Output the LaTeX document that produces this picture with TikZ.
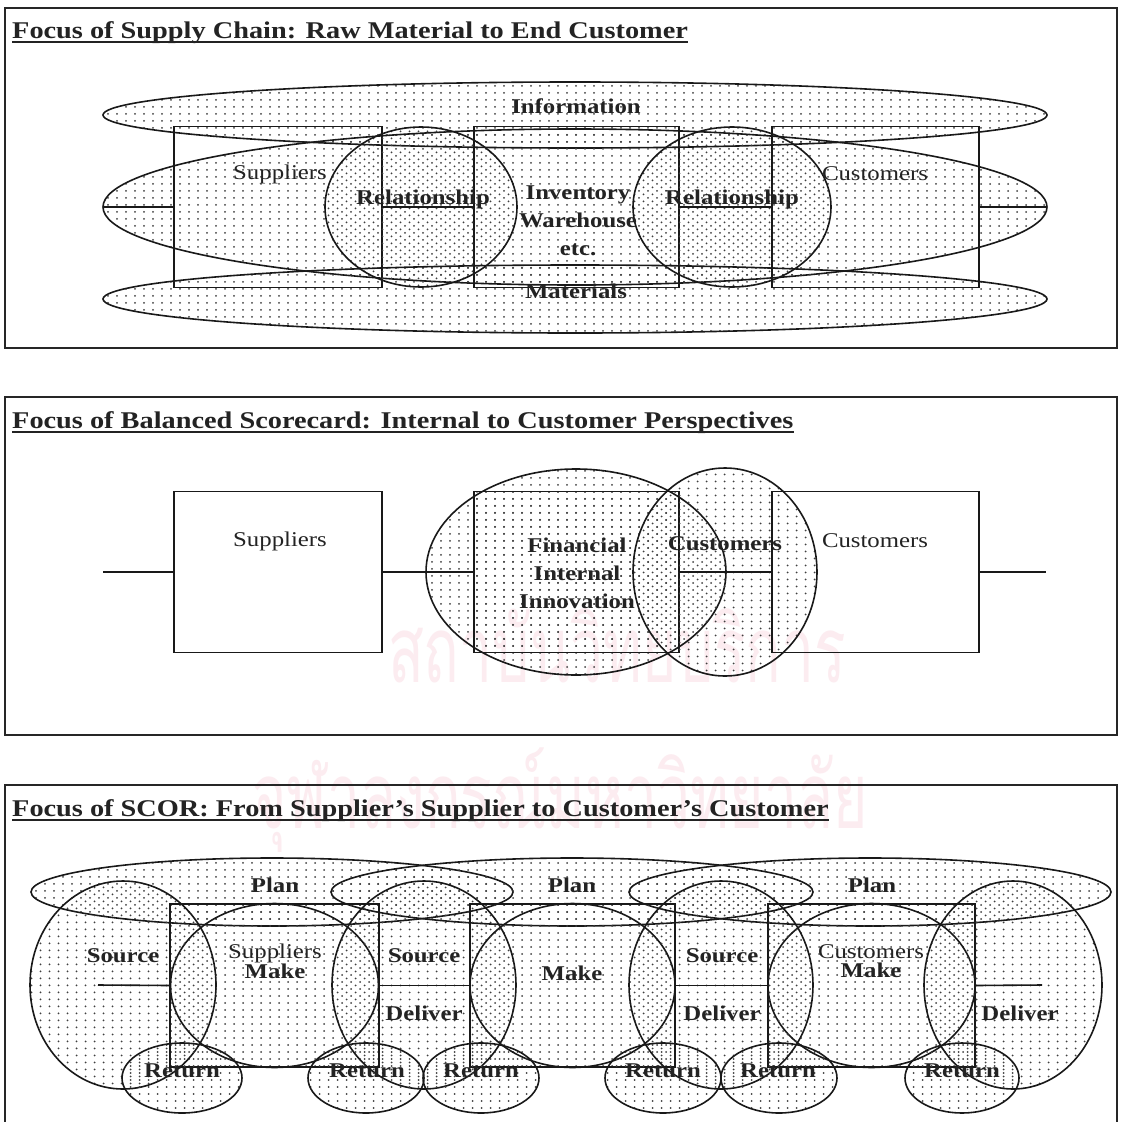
\documentclass[tikz,border=0pt]{standalone}
\usepackage{fontspec}
\setmainfont{Liberation Serif}[FakeStretch=1.18]
\newfontfamily\thaimark[Script=Thai]{Loma}
\usetikzlibrary{patterns,shapes.geometric}

% sparse dot screens; the offsets make overlapping areas look denser
\pgfdeclarepatternformonly{dotgridA}{\pgfqpoint{-1.5pt}{-1.5pt}}{\pgfqpoint{1.5pt}{1.5pt}}{\pgfqpoint{9pt}{7pt}}%
  {\pgfpathcircle{\pgfpointorigin}{1pt}\pgfusepath{fill}}
\pgfdeclarepatternformonly{dotgridB}{\pgfqpoint{3pt}{2pt}}{\pgfqpoint{6pt}{5pt}}{\pgfqpoint{9pt}{7pt}}%
  {\pgfpathcircle{\pgfqpoint{4.5pt}{3.5pt}}{1pt}\pgfusepath{fill}}
\pgfdeclarepatternformonly{dotgridC}{\pgfqpoint{3pt}{-1.5pt}}{\pgfqpoint{6pt}{1.5pt}}{\pgfqpoint{9pt}{7pt}}%
  {\pgfpathcircle{\pgfqpoint{4.5pt}{0pt}}{1pt}\pgfusepath{fill}}

\definecolor{ink}{RGB}{35,35,35}
\definecolor{wmark}{RGB}{252,236,240}

\tikzset{
  outline/.style={draw=black!90, line width=1.6pt},
  frame/.style={draw=black!85, line width=2pt},
  dotsA/.style={pattern=dotgridA, pattern color=black!75},
  fieldA/.style={outline, dotsA},
  fieldB/.style={outline, pattern=dotgridB, pattern color=black!75},
  fieldC/.style={outline, pattern=dotgridC, pattern color=black!75},
  oval/.style={ellipse, inner sep=0pt, outer sep=0pt},
  stagebox/.style={rectangle, outline, inner sep=0pt, outer sep=0pt},
  lbl/.style={text=ink, inner sep=0pt, align=center, font=\fontsize{21}{19}\selectfont},
  blbl/.style={lbl, font=\bfseries\fontsize{21}{28}\selectfont},
  ttl/.style={anchor=base west, inner sep=0pt, text=ink, font=\bfseries\fontsize{24}{28}\selectfont},
  rule/.style={draw=ink, line width=1.8pt},
  wm/.style={text=wmark, inner sep=0pt, font=\thaimark\fontsize{92}{92}\selectfont},
}

\begin{document}
\begin{tikzpicture}[x=1pt,y=-1pt]
\useasboundingbox[fill=white] (0,0) rectangle (1120,1122);

% faint lettering behind the panels
\node[wm, xscale=0.64, anchor=base] (wm1) at (617,682) {สถาบันวิทยบริการ};
\node[wm, xscale=0.64, anchor=base] (wm2) at (560,828) {จุฬาลงกรณ์มหาวิทยาลัย};

% ---------------- supply chain ----------------
\draw[frame] (5,8) rectangle (1117,348);
\node[ttl] (t1) at (12,38) {Focus of Supply Chain: Raw Material to End Customer};
\draw[rule] ([yshift=-4pt]t1.base west) -- ([yshift=-4pt]t1.base east);

\node[oval, fieldA, minimum width=944pt, minimum height=66pt] (info) at (575,115) {};
\node[oval, fieldA, minimum width=944pt, minimum height=156pt] (flow) at (575,207) {};
\node[oval, fieldA, minimum width=944pt, minimum height=68pt] (mats) at (575,299) {};
\node[stagebox, minimum width=208pt, minimum height=161pt] (sup1) at (278,207) {};
\node[stagebox, minimum width=205pt, minimum height=161pt] (inv1) at (576.5,207) {};
\node[stagebox, minimum width=207pt, minimum height=161pt] (cus1) at (875.5,207) {};
\node[oval, fieldB, minimum width=192pt, minimum height=160pt] (rel1) at (421,207) {};
\node[oval, fieldB, minimum width=198pt, minimum height=160pt] (rel2) at (732,207) {};
\draw[outline] (flow.west) -- (sup1.west);
\draw[outline] (sup1.east) -- (inv1.west);
\draw[outline] (inv1.east) -- (cus1.west);
\draw[outline] (cus1.east) -- (flow.east);

\node[blbl] (l-info) at (576,106) {Information};
\node[lbl] (l-sup1) at (280,174) {Suppliers};
\node[blbl] (l-rel1) at (423,199) {Relationship};
\node[blbl] (l-inv) at (578,221) {Inventory\\Warehouse\\etc.};
\node[blbl] (l-rel2) at (732,199) {Relationship};
\node[lbl] (l-cus1) at (875,174) {Customers};
\node[blbl] (l-mats) at (576,291) {Materials};

% ---------------- balanced scorecard ----------------
\draw[frame] (5,397) rectangle (1117,735);
\node[ttl] (t2) at (12,428) {Focus of Balanced Scorecard: Internal to Customer Perspectives};
\draw[rule] ([yshift=-4pt]t2.base west) -- ([yshift=-4pt]t2.base east);

\node[oval, fieldA, minimum width=300pt, minimum height=206pt] (core) at (576,572) {};
\node[stagebox, dotsA, minimum width=205pt, minimum height=161pt] (fin) at (576.5,572) {};
\node[stagebox, minimum width=208pt, minimum height=161pt] (sup2) at (278,572) {};
\node[stagebox, minimum width=207pt, minimum height=161pt] (cus2) at (875.5,572) {};
\node[oval, fieldB, minimum width=184pt, minimum height=208pt] (cview) at (725,572) {};
\coordinate (in2) at (103,572);
\coordinate (out2) at (1046,572);
\draw[outline] (in2) -- (sup2.west);
\draw[outline] (sup2.east) -- (fin.west);
\draw[outline] (fin.east) -- (cus2.west);
\draw[outline] (cus2.east) -- (out2);

\node[lbl] (l-sup2) at (280,541) {Suppliers};
\node[blbl] (l-fin) at (577,573) {Financial\\Internal\\Innovation};
\node[blbl] (l-cview) at (725,544) {Customers};
\node[lbl] (l-cus2) at (875,541) {Customers};

% ---------------- SCOR ----------------
\draw[frame] (5,1124) -- (5,785) -- (1117,785) -- (1117,1124);
\node[ttl] (t3) at (12,816) {Focus of SCOR: From Supplier’s Supplier to Customer’s Customer};
\draw[rule] ([yshift=-4pt]t3.base west) -- ([yshift=-4pt]t3.base east);

\node[oval, fieldA, minimum width=482pt, minimum height=68pt] (plan1) at (272,892) {};
\node[oval, fieldA, minimum width=482pt, minimum height=68pt] (plan2) at (572,892) {};
\node[oval, fieldA, minimum width=482pt, minimum height=68pt] (plan3) at (870,892) {};

\node[stagebox, dotsA, minimum width=209pt, minimum height=163pt] (b1) at (274.5,985.5) {};
\node[stagebox, dotsA, minimum width=205pt, minimum height=163pt] (b2) at (572.5,985.5) {};
\node[stagebox, dotsA, minimum width=207pt, minimum height=163pt] (b3) at (871.5,985.5) {};

\node[oval, outline, minimum width=208pt, minimum height=164pt] (make1) at (274.5,985.5) {};
\node[oval, outline, minimum width=205pt, minimum height=164pt] (make2) at (572.5,985.5) {};
\node[oval, outline, minimum width=207pt, minimum height=164pt] (make3) at (871.5,985.5) {};

\node[oval, fieldB, minimum width=186pt, minimum height=208pt] (src0) at (123,985) {};
\node[oval, fieldB, minimum width=184pt, minimum height=208pt] (src1) at (424,985) {};
\node[oval, fieldB, minimum width=184pt, minimum height=208pt] (src2) at (721,985) {};
\node[oval, fieldB, minimum width=178pt, minimum height=208pt] (src3) at (1013,985) {};

\node[oval, fieldC, minimum width=120pt, minimum height=70pt] (ret1) at (182,1078) {};
\node[oval, fieldC, minimum width=116pt, minimum height=70pt] (ret2) at (366,1078) {};
\node[oval, fieldC, minimum width=116pt, minimum height=70pt] (ret3) at (481,1078) {};
\node[oval, fieldC, minimum width=116pt, minimum height=70pt] (ret4) at (663,1078) {};
\node[oval, fieldC, minimum width=116pt, minimum height=70pt] (ret5) at (779,1078) {};
\node[oval, fieldC, minimum width=114pt, minimum height=70pt] (ret6) at (962,1078) {};

\coordinate (in3) at (98,985);
\coordinate (out3) at (1042,985);
\draw[outline] (in3) -- (b1.west);
\draw[outline] (b1.east) -- (b2.west);
\draw[outline] (b2.east) -- (b3.west);
\draw[outline] (b3.east) -- (out3);

\node[blbl] (l-plan1) at (275,885) {Plan};
\node[blbl] (l-plan2) at (572,885) {Plan};
\node[blbl] (l-plan3) at (872,885) {Plan};
\node[blbl] (l-src0) at (123,956) {Source};
\node[lbl] (l-make1) at (275,961) {Suppliers\\\textbf{Make}};
\node[blbl] (l-src1) at (424,956) {Source};
\node[blbl] (l-del1) at (424,1013) {Deliver};
\node[blbl] (l-make2) at (572,973) {Make};
\node[blbl] (l-src2) at (722,956) {Source};
\node[blbl] (l-del2) at (722,1013) {Deliver};
\node[lbl] (l-make3) at (871,961) {Customers\\\textbf{Make}};
\node[blbl] (l-del3) at (1020,1013) {Deliver};
\node[blbl] (l-ret1) at (182,1071) {Return};
\node[blbl] (l-ret2) at (367,1071) {Return};
\node[blbl] (l-ret3) at (481,1071) {Return};
\node[blbl] (l-ret4) at (663,1071) {Return};
\node[blbl] (l-ret5) at (778,1071) {Return};
\node[blbl] (l-ret6) at (962,1071) {Return};
\end{tikzpicture}
\end{document}
